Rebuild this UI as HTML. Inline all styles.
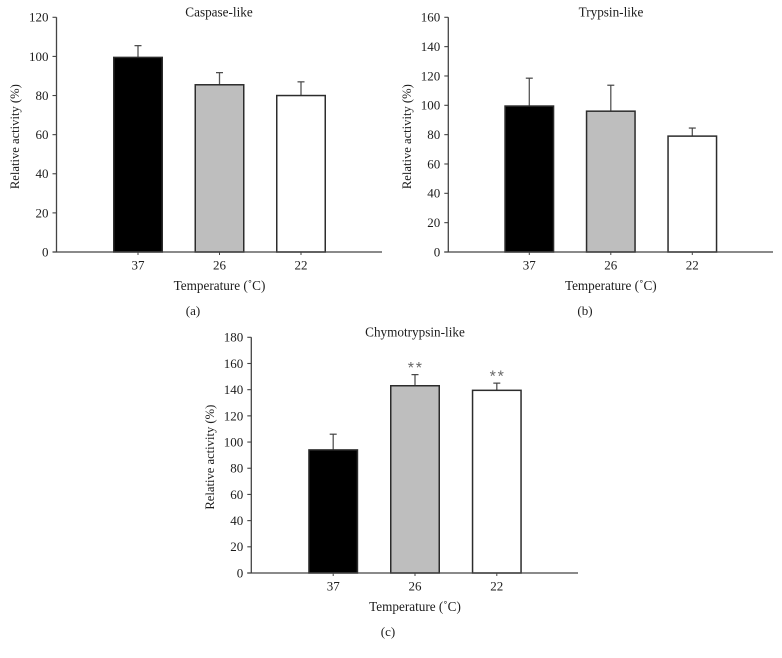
<!DOCTYPE html>
<html lang="en">
<head>
<meta charset="utf-8">
<title>Proteasome activity vs temperature</title>
<style>
html,body{margin:0;padding:0;background:#fff;}
svg{display:block;filter:blur(0.35px);}
text{font-family:"Liberation Serif",serif;fill:#1c1c1c;font-size:13px;}
</style>
</head>
<body>
<svg id="figure" xmlns="http://www.w3.org/2000/svg" width="782" height="658" viewBox="0 0 782 658"></svg>
<script>
const categories = ['37', '26', '22'];

const caspaseTitle = 'Caspase-like';
const caspaseValues = [99.5, 85.5, 80];
const caspaseErrorTops = [105.5, 91.7, 87];
const caspaseMarks = ['', '', ''];
const caspaseTicks = [0, 20, 40, 60, 80, 100, 120];

const trypsinTitle = 'Trypsin-like';
const trypsinValues = [99.5, 96, 79];
const trypsinErrorTops = [118.5, 113.7, 84.5];
const trypsinMarks = ['', '', ''];
const trypsinTicks = [0, 20, 40, 60, 80, 100, 120, 140, 160];

const chymotrypsinTitle = 'Chymotrypsin-like';
const chymotrypsinValues = [94, 143, 139.5];
const chymotrypsinErrorTops = [106, 151.5, 145];
const chymotrypsinMarks = ['', '**', '**'];
const chymotrypsinTicks = [0, 20, 40, 60, 80, 100, 120, 140, 160, 180];

const barFills = ['#000000', '#bebebe', '#ffffff'];

const svg = document.getElementById('figure');
const NS = 'http://www.w3.org/2000/svg';

function make(tag, attrs, parent, text) {
  const el = document.createElementNS(NS, tag);
  for (const k in attrs) el.setAttribute(k, attrs[k]);
  if (text !== undefined) el.textContent = text;
  parent.appendChild(el);
  return el;
}

function drawPanel(p) {
  const g = make('g', {}, svg);
  
  

  const maxTick = Math.max.apply(null, p.ticks);
  const yScale = v => p.y0 - (v / maxTick) * (p.y0 - p.yTop);
  const xScale = i => p.xFirst + i * p.xStep;
  const barW = 48.5;
  const axisColor = '#444';
  const barStroke = '#2c2c2c';

  // bars and error bars
  categories.forEach((cat, i) => {
    const cx = xScale(i);
    const top = yScale(p.values[i]);
    const errY = yScale(p.errors[i]);

    const stem = make('line', {x1: cx, x2: cx, y1: top, y2: errY, stroke: '#555', 'stroke-width': 1.3}, g);
    
    

    const cap = make('line', {x1: cx - 3.5, x2: cx + 3.5, y1: errY, y2: errY, stroke: '#444', 'stroke-width': 1.2}, g);
    
    

    const bar = make('rect', {x: cx - barW / 2, y: top, width: barW, height: p.y0 - top, fill: barFills[i], stroke: barStroke, 'stroke-width': 1.5}, g);
    
    

    const tick = make('line', {x1: cx, x2: cx, y1: p.y0, y2: p.y0 + 3, stroke: axisColor, 'stroke-width': 1}, g);
    
    

    const label = make('text', {x: cx, y: p.y0 + 17.5, 'text-anchor': 'middle'}, g, cat);
    
    

    if (p.marks[i]) {
      const star = make('text', {x: cx + 0.8, y: errY - 1.5, 'text-anchor': 'middle', style: 'font-size:16px;fill:#666;letter-spacing:1.8px;font-family:\'Liberation Sans\',sans-serif'}, g, p.marks[i]);
      
      
    }
  });

  // axes
  const yAxis = make('line', {x1: p.x0, x2: p.x0, y1: p.yTop, y2: p.y0, stroke: axisColor, 'stroke-width': 1.3}, g);
  
  

  const xAxis = make('line', {x1: p.x0 - 4, x2: p.xEnd, y1: p.y0, y2: p.y0, stroke: axisColor, 'stroke-width': 1.3}, g);
  
  

  p.ticks.forEach(t => {
    const y = yScale(t);
    const tick = make('line', {x1: p.x0 - 4, x2: p.x0, y1: y, y2: y, stroke: axisColor, 'stroke-width': 1.1}, g);
    
    

    const label = make('text', {x: p.x0 - 8, y: y + 4.4, 'text-anchor': 'end'}, g, String(t));
    
    
  });

  const title = make('text', {x: p.titleX, y: p.yTop - 1, 'text-anchor': 'middle', style: 'font-size:13.2px'}, g, p.title);
  
  

  const yTitleX = p.x0 - 37.5;
  const yTitleY = (p.y0 + p.yTop) / 2 + 2;
  const yTitle = make('text', {x: yTitleX, y: yTitleY, 'text-anchor': 'middle', transform: 'rotate(-90 ' + yTitleX + ' ' + yTitleY + ')', style: 'font-size:12.6px'}, g, 'Relative activity (%)');
  
  

  const xTitle = make('text', {x: xScale(1), y: p.y0 + 38, 'text-anchor': 'middle', style: 'font-size:13.2px'}, g, 'Temperature (\u02DAC)');
  
  

  const caption = make('text', {x: p.captionX, y: p.y0 + 63, 'text-anchor': 'middle'}, g, p.caption);
  
  
}

drawPanel({key: 'caspase', title: caspaseTitle, caption: '(a)', values: caspaseValues, errors: caspaseErrorTops, marks: caspaseMarks, ticks: caspaseTicks,
  x0: 56.5, xEnd: 382, y0: 252, yTop: 17.3, xFirst: 138, xStep: 81.5, titleX: 219, captionX: 193});
drawPanel({key: 'trypsin', title: trypsinTitle, caption: '(b)', values: trypsinValues, errors: trypsinErrorTops, marks: trypsinMarks, ticks: trypsinTicks,
  x0: 448.3, xEnd: 773, y0: 252, yTop: 17.3, xFirst: 529.3, xStep: 81.5, titleX: 611, captionX: 585});
drawPanel({key: 'chymotrypsin', title: chymotrypsinTitle, caption: '(c)', values: chymotrypsinValues, errors: chymotrypsinErrorTops, marks: chymotrypsinMarks, ticks: chymotrypsinTicks,
  x0: 251.3, xEnd: 578, y0: 573, yTop: 337.3, xFirst: 333.2, xStep: 81.8, titleX: 415, captionX: 388});
</script>
</body>
</html>
